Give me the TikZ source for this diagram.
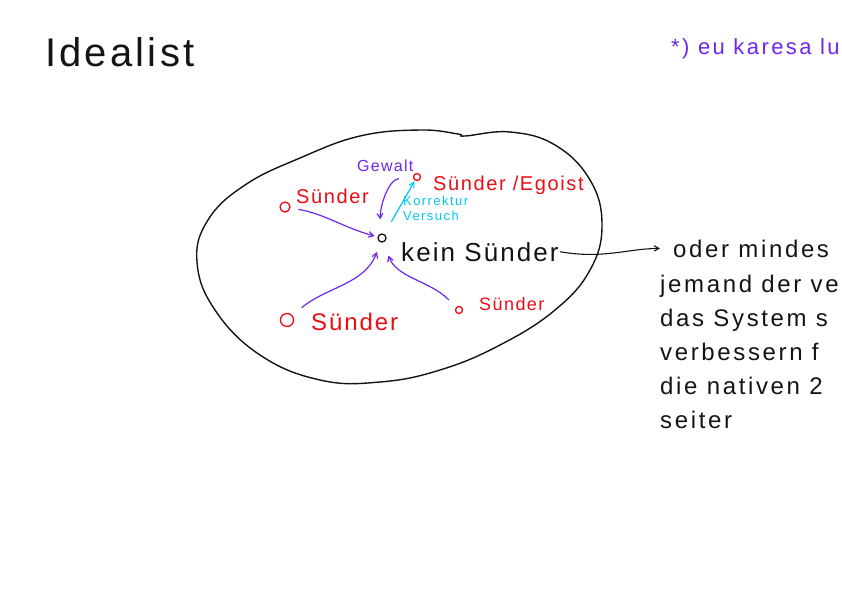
\documentclass[tikz,border=0pt]{standalone}
\usepackage{fontspec}
\setmainfont{Liberation Sans}
\newfontfamily\hand[LetterSpace=8]{Liberation Sans}
\newfontfamily\handweit[LetterSpace=11]{Liberation Sans}
\usetikzlibrary{arrows,positioning}
\definecolor{stift}{RGB}{20,20,20}
\definecolor{lila}{RGB}{112,38,236}
\definecolor{rot}{RGB}{236,12,20}
\definecolor{tuerkis}{RGB}{0,200,240}

\begin{document}
\begin{tikzpicture}[x=1pt,y=1pt,>=angle 60,
    punkt/.style={circle,draw=#1,line width=1.3pt,inner sep=0pt},
    pfeil/.style={->,line width=1.2pt,lila},
    schrift/.style={anchor=base west,inner sep=1pt,font=\hand\fontsize{#1}{#1}\selectfont}]
                \useasboundingbox (0,0) rectangle (842,-595);
                \clip (0,0) rectangle (842,-595);
                \node [schrift=40, stift] (titel) at (44,-66) {Idealist};
                \node [schrift=22, lila, font=\handweit\fontsize{22}{22}\selectfont] (fussnote) at (670,-54) {*) eu karesa lu};
                \draw [stift, line width=1.4pt] plot [smooth cycle, tension=0.7] coordinates {(465,-136) (510,-132) (555,-145) (590,-180) (602,-225) (590,-270) (555,-310) (500,-345) (440,-370) (380,-382) (320,-380) (260,-355) (215,-310) (197,-262) (208,-220) (245,-185) (300,-158) (360,-136) (420,-130) (458,-134)};
                \node [punkt=stift, minimum size=8pt] (kern) at (382,-238) {};
                \node [schrift=26, stift] (keinText) at (400,-261) {kein Sünder};
                \node [punkt=rot, minimum size=10pt] (s1) at (285,-207) {};
                \node [schrift=20, rot] (s1Text) at (295,-203) {Sünder};
                \node [punkt=rot, minimum size=7pt] (s2) at (417,-177) {};
                \node [schrift=20, rot] (s2Text) at (432,-190) {Sünder /Egoist};
                \node [punkt=rot, minimum size=13pt] (s3) at (287,-320) {};
                \node [schrift=24, rot] (s3Text) at (310,-330) {Sünder};
                \node [punkt=rot, minimum size=7pt] (s4) at (459,-310) {};
                \node [schrift=18, rot] (s4Text) at (478,-310) {Sünder};
                \node [schrift=16, lila] (gewalt) at (356,-171) {Gewalt};
                \node [anchor=north west, inner sep=1pt, align=left, tuerkis,
                       font=\handweit\fontsize{13}{15}\selectfont] (korrektur) at (402,-195) {Korrektur\\Versuch};
                \node [schrift=24, stift, font=\handweit\fontsize{24}{24}\selectfont] (oder) at (672,-257) {oder mindes};
                \node [anchor=north west, inner sep=0pt, align=left, stift,
                       font=\handweit\fontsize{24}{34}\selectfont] (notiz) at (660,-275)
                      {jemand der ve\\das System s\\verbessern f\\die nativen 2\\seiter};
                \draw [pfeil, shorten <=8pt, shorten >=3pt] (s1) to [out=-10, in=165] (kern);
                \draw [pfeil, shorten <=12pt, shorten >=10pt] (s3) to [out=40, in=-110] (kern);
                \draw [pfeil, shorten <=10pt, shorten >=14pt] (s4) to [out=135, in=-70] (kern);
                \draw [pfeil, shorten <=14pt, shorten >=14pt] (s2) to [out=185, in=95] (kern);
                \draw [->, line width=1.2pt, tuerkis, shorten <=14pt, shorten >=1pt] (kern) -- (s2);
                \draw [->, line width=1.1pt, stift, shorten >=12pt] (keinText.east) to [out=-10, in=180] (oder.west);
\end{tikzpicture}
\end{document}
